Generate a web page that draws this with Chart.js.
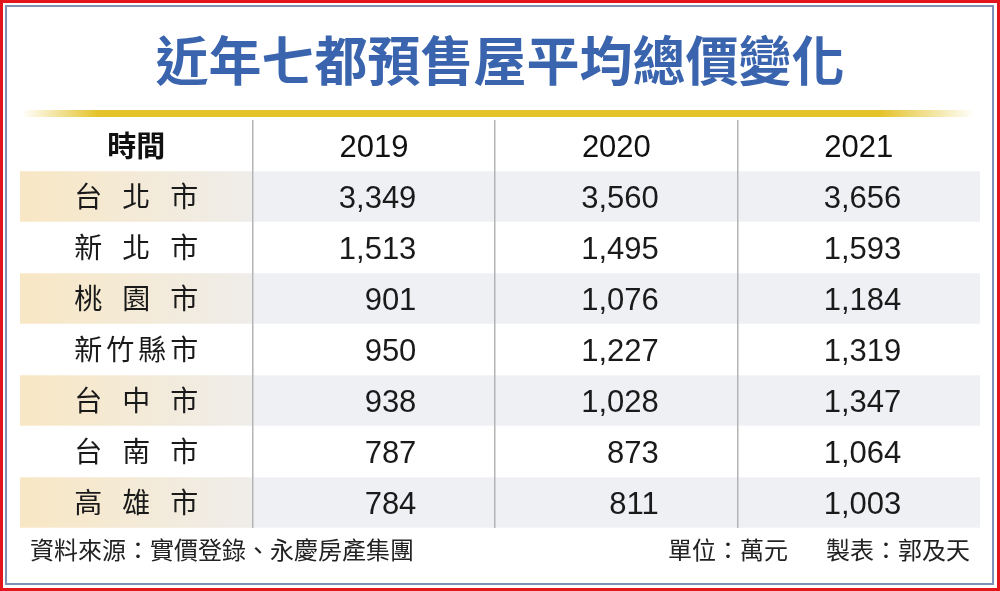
<!DOCTYPE html>
<html lang="zh-Hant">
<head>
<meta charset="utf-8">
<title>近年七都預售屋平均總價變化</title>
<script src="https://cdn.jsdelivr.net/npm/chart.js@4.4.1/dist/chart.umd.min.js"></script>
<style>
  html, body { margin: 0; padding: 0; background: #fff; }
  #wrap { width: 1000px; height: 591px; }
</style>
</head>
<body>
<div id="wrap"><canvas id="canvas" width="1000" height="591"></canvas></div>
<script>
// 資料
const title = '近年七都預售屋平均總價變化';
const headerLabel = '時間';
const years = ['2019', '2020', '2021'];
const cities = ['台北市', '新北市', '桃園市', '新竹縣市', '台中市', '台南市', '高雄市'];
const values2019 = [3349, 1513, 901, 950, 938, 787, 784];
const values2020 = [3560, 1495, 1076, 1227, 1028, 873, 811];
const values2021 = [3656, 1593, 1184, 1319, 1347, 1064, 1003];
const source = '資料來源：實價登錄、永慶房產集團';
const unit = '單位：萬元';
const maker = '製表：郭及天';

const columns = [values2019, values2020, values2021];
const rows = [headerLabel].concat(cities);

// 版面
const LABEL_START = -0.96;   // 左欄起點 (以資料欄寬為單位)
const NUM_RIGHT = 0.675;     // 數字靠右對齊的位置
const NUM_DY = 2.5;          // 數字字型的垂直微調
const CJK = '"Noto Sans CJK TC", "Noto Sans CJK SC", sans-serif';
const NUM = '"Liberation Sans", Arial, sans-serif';

// 單數列加底色
const shadedRows = rows.filter((r, i) => i % 2 === 1);

/**
 * 左右分散對齊的文字 (城市名稱)
 */
function drawJustified(ctx, text, cx, width, y) {
    const chars = Array.from(text);
    const ws = chars.map(c => ctx.measureText(c).width);
    const total = ws.reduce((a, b) => a + b, 0);
    const gap = chars.length > 1 ? (width - total) / (chars.length - 1) : 0;
    let x = cx - width / 2;
    ctx.textAlign = 'left';
    chars.forEach((c, i) => {
        ctx.fillText(c, x, y);
        x += ws[i] + gap;
    });
}

// 外框、標題、表格文字、註腳
const tablePlugin = {
    id: 'tableText',
    beforeDraw(chart) {
        const ctx = chart.ctx;
        ctx.save();
        ctx.fillStyle = '#ffffff';
        ctx.fillRect(0, 0, chart.width, chart.height);
        ctx.strokeStyle = '#e3161d';
        ctx.lineWidth = 3;
        ctx.strokeRect(1.5, 1.5, chart.width - 3, chart.height - 3);
        ctx.strokeStyle = '#7f93b8';
        ctx.lineWidth = 2;
        ctx.strokeRect(6, 6, chart.width - 13, chart.height - 13);

        // 標題下的金色線
        const g = ctx.createLinearGradient(22, 0, 975, 0);
        g.addColorStop(0, 'rgba(228,195,42,0)');
        g.addColorStop(0.08, 'rgba(228,195,42,1)');
        g.addColorStop(0.9, 'rgba(228,195,42,1)');
        g.addColorStop(1, 'rgba(228,195,42,0)');
        ctx.fillStyle = g;
        ctx.fillRect(22, 110, 953, 7);
        ctx.restore();
    },
    afterDraw(chart) {
        const ctx = chart.ctx;
        const x = chart.scales.x;
        const y = chart.scales.y;
        ctx.save();
        ctx.textBaseline = 'middle';

        // 標題
        ctx.fillStyle = '#3a64ad';
        ctx.font = 'bold 53px ' + CJK;
        ctx.textAlign = 'center';
        ctx.fillText(title, chart.width / 2, 61);

        // 表頭
        ctx.fillStyle = '#111111';
        const yh = y.getPixelForValue(0);
        ctx.font = 'bold 29px ' + CJK;
        ctx.textAlign = 'center';
        ctx.fillText(headerLabel, x.getPixelForValue(LABEL_START / 2), yh);
        ctx.font = '31px ' + NUM;
        years.forEach((yr, j) => {
            ctx.fillText(yr, x.getPixelForValue(j + 0.5), yh + NUM_DY);
        });

        // 城市名稱
        ctx.font = '28px ' + CJK;
        ctx.fillStyle = '#1a1a1a';
        cities.forEach((c, i) => {
            drawJustified(ctx, c, x.getPixelForValue(LABEL_START / 2), 124, y.getPixelForValue(i + 1));
        });

        // 數值
        ctx.font = '31px ' + NUM;
        ctx.textAlign = 'right';
        columns.forEach((col, j) => {
            col.forEach((v, i) => {
                ctx.fillText(v.toLocaleString('en-US'), x.getPixelForValue(j + NUM_RIGHT), y.getPixelForValue(i + 1) + NUM_DY);
            });
        });

        // 註腳
        ctx.font = '24px ' + CJK;
        ctx.fillStyle = '#222222';
        ctx.textAlign = 'left';
        ctx.fillText(source, 30, 550);
        ctx.textAlign = 'right';
        ctx.fillText(unit, 788, 550);
        ctx.fillText(maker, 970, 550);
        ctx.restore();
    }
};

const config = {
    type: 'bar',
    data: {
        labels: rows,
        datasets: [
            {
                // 左欄底色
                data: shadedRows.map(r => ({ x: [LABEL_START, 0], y: r })),
                backgroundColor: (c) => {
                    const chart = c.chart;
                    const sx = chart.scales.x;
                    if (!chart.chartArea || !sx) return '#f4e9d4';
                    const g = chart.ctx.createLinearGradient(sx.getPixelForValue(LABEL_START), 0, sx.getPixelForValue(0), 0);
                    g.addColorStop(0, '#f8e7c4');
                    g.addColorStop(1, '#efedea');
                    return g;
                },
                grouped: false,
                barPercentage: 0.99,
                categoryPercentage: 1
            },
            {
                // 資料欄底色
                data: shadedRows.map(r => ({ x: [0, years.length], y: r })),
                backgroundColor: '#eef0f4',
                grouped: false,
                barPercentage: 0.99,
                categoryPercentage: 1
            }
        ]
    },
    options: {
        indexAxis: 'y',
        responsive: false,
        animation: false,
        events: [],
        layout: { padding: { left: 20, right: 20, top: 120, bottom: 63 } },
        plugins: {
            legend: { display: false },
            tooltip: { enabled: false },
            title: { display: false }
        },
        scales: {
            x: {
                type: 'linear',
                min: LABEL_START,
                max: years.length,
                afterBuildTicks: (s) => { s.ticks = [0, 1, 2].map(v => ({ value: v })); },
                afterFit: (s) => { s.height = 0; },
                // 分隔線畫在底色之上
                grid: { color: '#b3b3b3', lineWidth: 1.5, drawTicks: false, z: 1 },
                border: { display: false },
                ticks: { display: false }
            },
            y: {
                type: 'category',
                labels: rows,
                offset: true,
                display: false,
                grid: { display: false }
            }
        }
    },
    plugins: [tablePlugin]
};

let myTable = new Chart('canvas', config);
</script>
</body>
</html>
